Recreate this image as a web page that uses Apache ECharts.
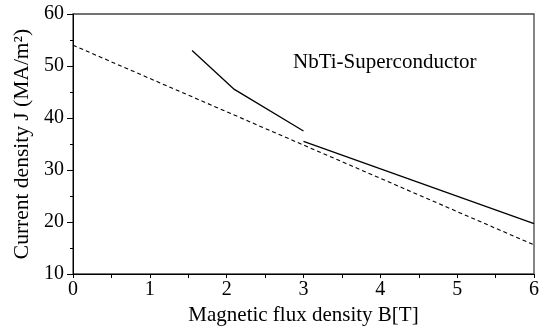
<!DOCTYPE html>
<html><head><meta charset="utf-8">
<script src="https://cdn.jsdelivr.net/npm/echarts@6/dist/echarts.min.js"></script>
<style>html,body{margin:0;padding:0;background:#fff}#c{width:542px;height:334px}</style>
</head><body><div id="c"></div>
<script>
const xTicks = [0, 1, 2, 3, 4, 5, 6];
const yTicks = [10, 20, 30, 40, 50, 60];
const dashedB = [0, 6];
const dashedJ = [54, 15.6];
const solid1B = [1.55, 2.1, 3.0];
const solid1J = [53, 45.5, 37.5];
const solid2B = [3.0, 6];
const solid2J = [35.5, 19.7];
const label = 'NbTi-Superconductor';

const zip = (a, b) => a.map((v, i) => [v, b[i]]);
const font = 'Liberation Serif';
const chart = echarts.init(document.getElementById('c'), null, {renderer: 'canvas'});
chart.setOption({
  animation: false,
  backgroundColor: '#fff',
  grid: {left: 73, right: 5, top: 14, bottom: 60, show: true, borderColor: '#444', borderWidth: 1.3, backgroundColor: 'transparent'},
  title: {text: label, left: 288, top: 47, textStyle: {fontFamily: font, fontSize: 21, fontWeight: 'normal', color: '#000'}},
  xAxis: {
    type: 'value', min: xTicks[0], max: xTicks[xTicks.length - 1], interval: 1,
    name: 'Magnetic flux density B[T]', nameLocation: 'middle', nameGap: 31,
    nameTextStyle: {fontFamily: font, fontSize: 21, color: '#000'},
    axisLine: {show: true, lineStyle: {color: '#000', width: 1}},
    axisTick: {show: true, inside: false, length: 4, lineStyle: {color: '#000'}},
    minorTick: {show: true, splitNumber: 2, length: 4, lineStyle: {color: '#000'}},
    axisLabel: {fontFamily: font, fontSize: 20, color: '#000', margin: 6},
    splitLine: {show: false}
  },
  yAxis: {
    type: 'value', min: yTicks[0], max: yTicks[yTicks.length - 1], interval: 10,
    name: 'Current density J (MA/m²)', nameLocation: 'middle', nameGap: 40,
    nameTextStyle: {fontFamily: font, fontSize: 21.5, color: '#000'},
    axisLine: {show: true, lineStyle: {color: '#000', width: 1}},
    axisTick: {show: true, inside: false, length: 6, lineStyle: {color: '#000'}},
    minorTick: {show: true, splitNumber: 2, length: 3, lineStyle: {color: '#000'}},
    axisLabel: {fontFamily: font, fontSize: 20, color: '#000', margin: 9},
    splitLine: {show: false}
  },
  series: [
    {type: 'line', data: zip(dashedB, dashedJ), symbol: 'none', lineStyle: {color: '#000', width: 1.1, type: [4, 3]}},
    {type: 'line', data: zip(solid1B, solid1J), symbol: 'none', lineStyle: {color: '#000', width: 1.3}},
    {type: 'line', data: zip(solid2B, solid2J), symbol: 'none', lineStyle: {color: '#000', width: 1.3}}
  ]
});
</script></body></html>
